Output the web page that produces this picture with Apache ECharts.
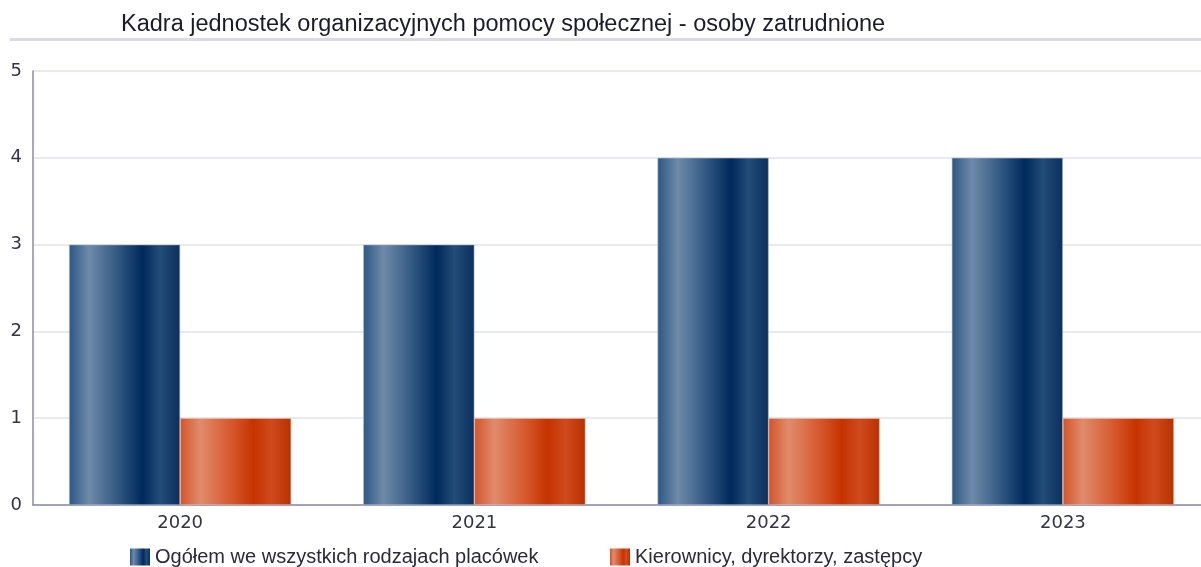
<!DOCTYPE html>
<html>
<head>
<meta charset="utf-8">
<script src="https://cdn.jsdelivr.net/npm/echarts@6/dist/echarts.min.js"></script>
<style>
  html, body { margin: 0; padding: 0; background: #fff; overflow: hidden; }
  #chart { width: 1210px; height: 567px; }
</style>
</head>
<body>
<div id="chart"></div>
<script>
// Employment in social welfare organisational units, 2020–2023
const years = ['2020', '2021', '2022', '2023'];
const totalStaff = [3, 3, 4, 4];
const managers = [1, 1, 1, 1];
const seriesNames = ['Ogółem we wszystkich rodzajach placówek', 'Kierownicy, dyrektorzy, zastępcy'];
const yTicks = [0, 1, 2, 3, 4, 5];

// Horizontal "cylinder" shading used on each bar
function shade(edge, light, mid, deep, mid2, end) {
  return new echarts.graphic.LinearGradient(0, 0, 1, 0, [
    { offset: 0, color: edge },
    { offset: 0.18, color: light },
    { offset: 0.45, color: mid },
    { offset: 0.66, color: deep },
    { offset: 0.82, color: mid2 },
    { offset: 1, color: end }
  ]);
}
const blueFill = shade('#2c5784', '#6f8aa9', '#2f5680', '#00295c', '#234c78', '#0b2f5e');
const orangeFill = shade('#d2552b', '#e08b6c', '#d65a30', '#c63300', '#cf4a1e', '#b83100');

const legendText = { fontSize: 20, color: '#2a2a3a', fontFamily: 'Liberation Sans, Arial, sans-serif' };
const axisFont = 'DejaVu Sans, Verdana, sans-serif';

const chart = echarts.init(document.getElementById('chart'), null, { renderer: 'canvas' });
chart.setOption({
  animation: false,
  backgroundColor: '#ffffff',
  textStyle: { fontFamily: 'Liberation Sans, Arial, sans-serif' },
  title: {
    text: 'Kadra jednostek organizacyjnych pomocy społecznej - osoby zatrudnione',
    left: 116,
    top: 8,
    textStyle: { fontSize: 23.5, fontWeight: 'normal', color: '#1b1b2b' }
  },
  graphic: [{
    type: 'rect',
    shape: { x: 10, y: 38, width: 1200, height: 3 },
    style: { fill: '#d9d9e8' },
    silent: true
  }],
  legend: [
    {
      data: [seriesNames[0]],
      left: 130, top: 547, padding: 0,
      icon: 'rect', itemWidth: 20, itemHeight: 17, itemGap: 0,
      itemStyle: { borderWidth: 0 },
      textStyle: legendText
    },
    {
      data: [seriesNames[1]],
      left: 610, top: 547, padding: 0,
      icon: 'rect', itemWidth: 20, itemHeight: 17, itemGap: 0,
      itemStyle: { borderWidth: 0 },
      textStyle: legendText
    }
  ],
  grid: { left: 33, right: 0, top: 71, bottom: 62, containLabel: false },
  xAxis: {
    type: 'category',
    data: years,
    axisLine: { lineStyle: { color: '#8a8aaa', width: 1.5 } },
    axisTick: { show: false },
    axisLabel: { fontSize: 18, color: '#333344', margin: 9, fontFamily: axisFont }
  },
  yAxis: {
    type: 'value',
    min: yTicks[0],
    max: yTicks[yTicks.length - 1],
    interval: 1,
    axisLine: { show: true, lineStyle: { color: '#8a8aaa', width: 1.5 } },
    axisTick: { show: false },
    axisLabel: { fontSize: 18, color: '#333344', margin: 11, fontFamily: axisFont },
    splitLine: { lineStyle: { color: '#e2e2ee', width: 1.5 } }
  },
  series: [
    {
      name: seriesNames[0],
      type: 'bar',
      data: totalStaff,
      barGap: '0%',
      barCategoryGap: '24.5%',
      itemStyle: { color: blueFill, borderColor: '#a9b8cc', borderWidth: 0.6 }
    },
    {
      name: seriesNames[1],
      type: 'bar',
      data: managers,
      itemStyle: { color: orangeFill, borderColor: '#f0b8a0', borderWidth: 0.6 }
    }
  ]
});
</script>
</body>
</html>
